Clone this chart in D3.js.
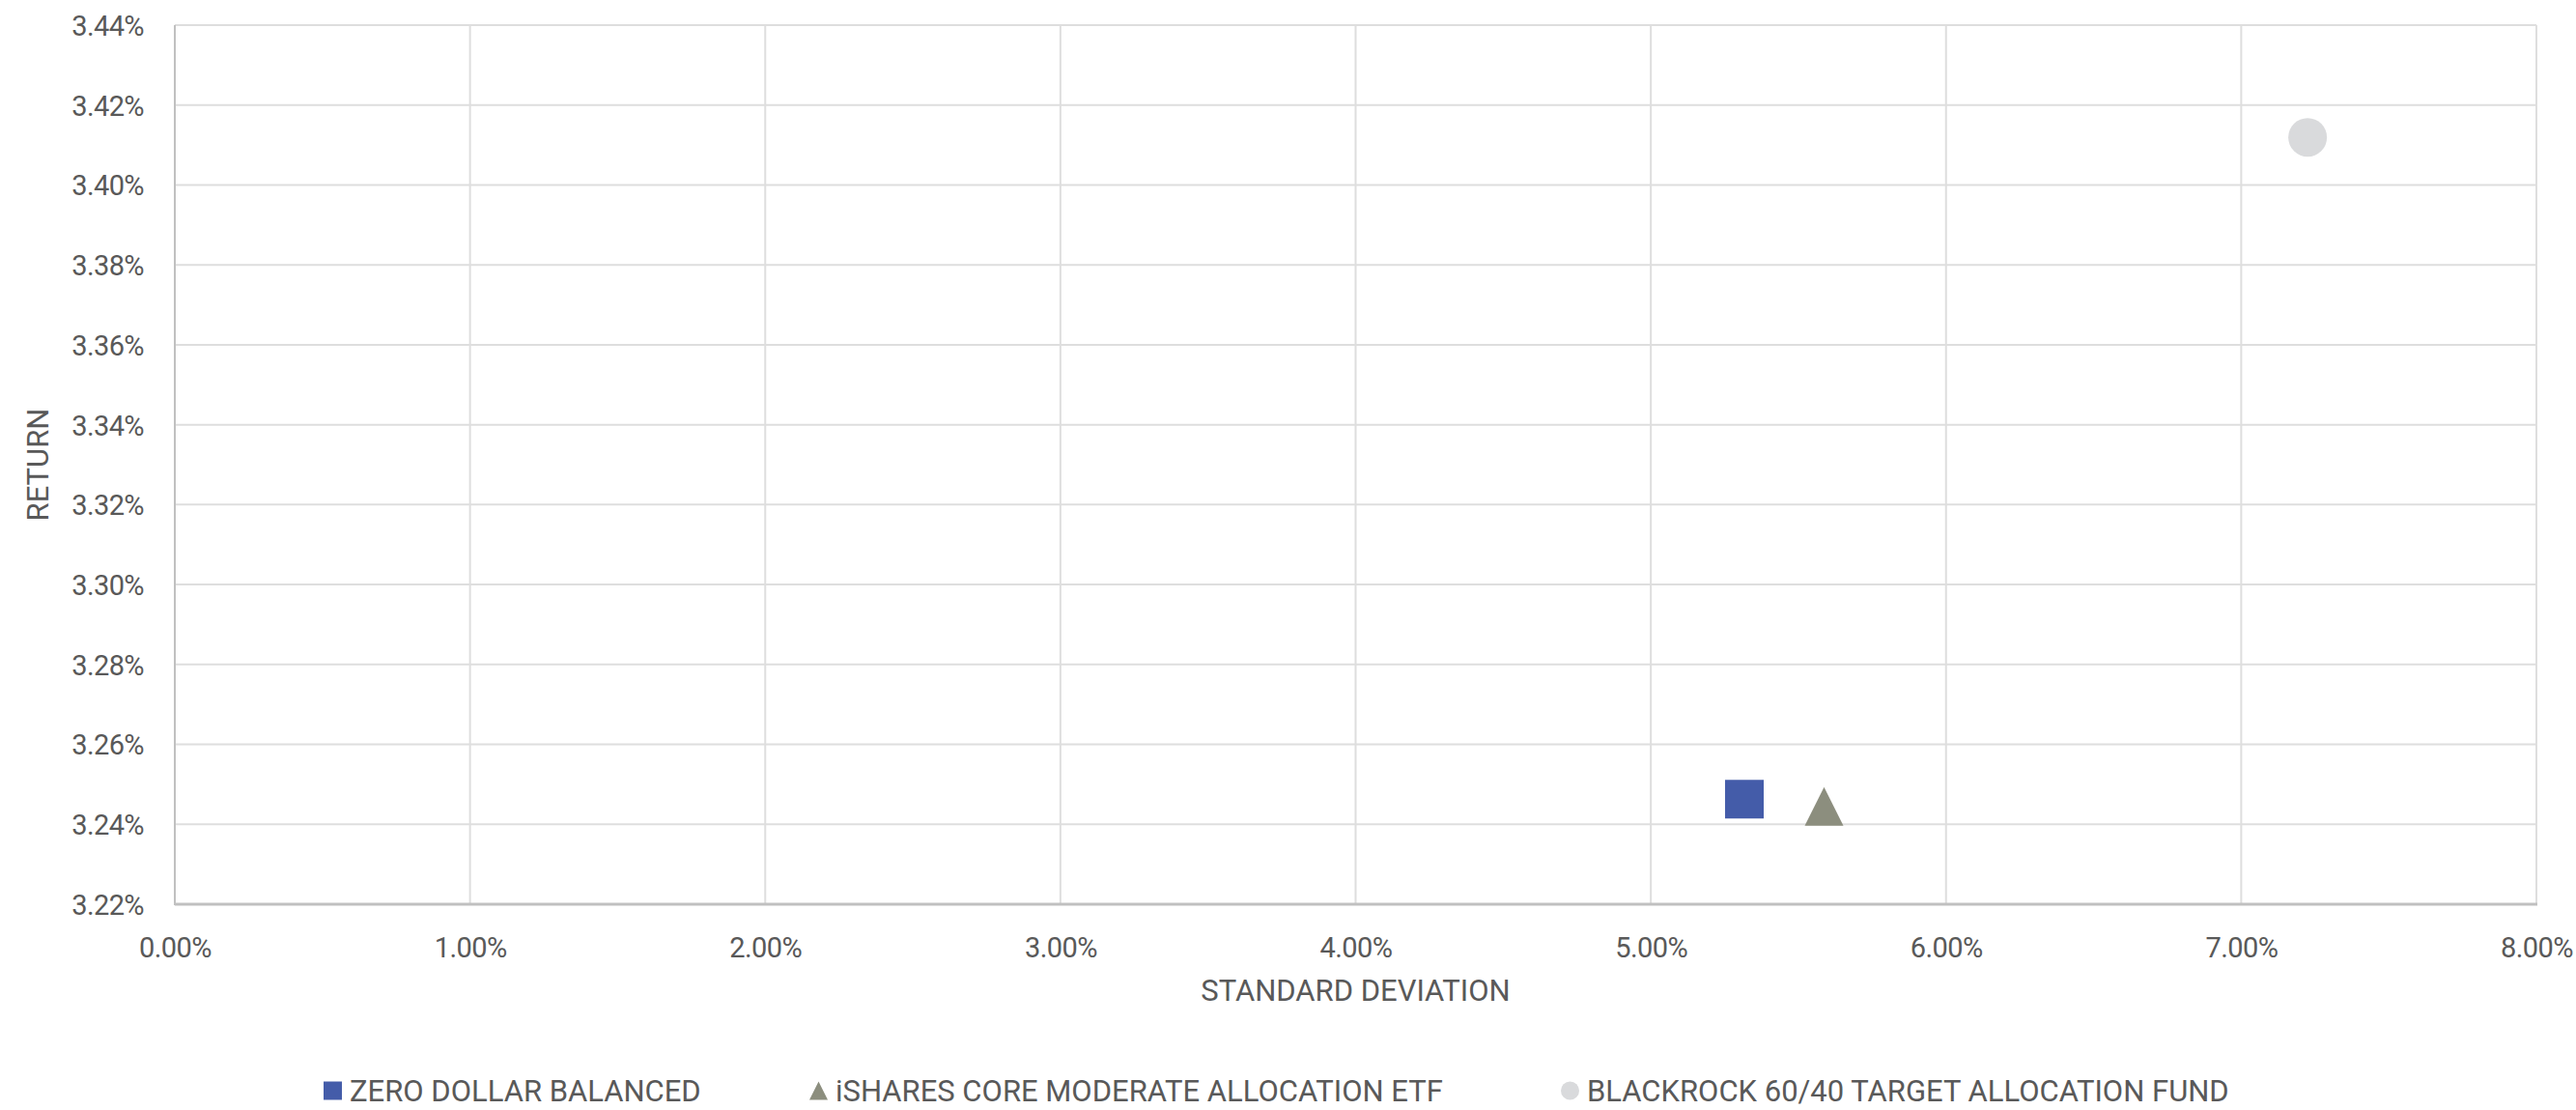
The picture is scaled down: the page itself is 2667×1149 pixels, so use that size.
<!DOCTYPE html>
<html><head><meta charset="utf-8">
<script src="https://cdn.jsdelivr.net/npm/d3@7"></script>
<style>
html,body{margin:0;padding:0;background:#fff;}
svg{display:block;font-family:Roboto, "Noto Sans", sans-serif;}
</style></head>
<body>
<svg id="chart" width="2667" height="1149"></svg>
<script>
// ---- data ----
const seriesNames = ["ZERO DOLLAR BALANCED", "iSHARES CORE MODERATE ALLOCATION ETF", "BLACKROCK 60/40 TARGET ALLOCATION FUND"];
const seriesStdDev = [5.317, 5.587, 7.225];   // % standard deviation
const seriesReturn = [3.2463, 3.2445, 3.4119]; // % return
const seriesSymbols = ["square", "triangle", "circle"];
const seriesColors = ["#445CA9", "#8C8E7E", "#D9DADC"];
const xTicks = [0, 1, 2, 3, 4, 5, 6, 7, 8];
const yTicks = [3.22, 3.24, 3.26, 3.28, 3.30, 3.32, 3.34, 3.36, 3.38, 3.40, 3.42, 3.44];
const xTitle = "STANDARD DEVIATION";
const yTitle = "RETURN";

// ---- layout ----
const L = 181, R = 2626, T = 26, B = 936;
const textColor = "#595959";
const svg = d3.select("#chart");

const x = d3.scaleLinear().domain([0, 8]).range([L, R]);
const y = d3.scaleLinear().domain([3.22, 3.44]).range([B, T]);

// grid
const g = svg.append("g");
g.selectAll("line.vg").data(xTicks).enter().append("line")
  .attr("x1", d => x(d)).attr("x2", d => x(d)).attr("y1", T).attr("y2", B)
  .attr("stroke", "#dedede").attr("stroke-width", 2);
g.selectAll("line.hg").data(yTicks).enter().append("line")
  .attr("x1", L).attr("x2", R).attr("y1", d => y(d)).attr("y2", d => y(d))
  .attr("stroke", "#dedede").attr("stroke-width", 2);

// axes lines
svg.append("line").attr("x1", L).attr("x2", L).attr("y1", T).attr("y2", B + 1)
  .attr("stroke", "#c0c0c0").attr("stroke-width", 2);
svg.append("line").attr("x1", L).attr("x2", R + 1).attr("y1", B).attr("y2", B)
  .attr("stroke", "#c0c0c0").attr("stroke-width", 3);

// axis labels via d3 axes
const yAxis = d3.axisLeft(y).tickValues(yTicks).tickSize(0).tickPadding(32)
  .tickFormat(d => d.toFixed(2) + "%");
const ya = svg.append("g").attr("transform", `translate(${L},0)`).call(yAxis);
ya.select(".domain").remove();
ya.selectAll("text").attr("font-size", 29).attr("letter-spacing", "-0.6px")
  .attr("fill", textColor).attr("font-family", "Roboto").attr("dy", "0.36em");

const xAxis = d3.axisBottom(x).tickValues(xTicks).tickSize(0).tickPadding(0)
  .tickFormat(d => d.toFixed(2) + "%");
const xa = svg.append("g").attr("transform", `translate(0,${B})`).call(xAxis);
xa.select(".domain").remove();
xa.selectAll("text").attr("font-size", 29).attr("letter-spacing", "-0.6px")
  .attr("fill", textColor).attr("font-family", "Roboto").attr("y", 55).attr("dy", 0);

// axis titles
svg.append("text").attr("x", (L + R) / 2).attr("y", 1036).attr("text-anchor", "middle")
  .attr("font-size", 31).attr("fill", textColor).text(xTitle);
svg.append("text").attr("transform", `translate(50,${(T + B) / 2}) rotate(-90)`)
  .attr("text-anchor", "middle").attr("font-size", 31).attr("fill", textColor).text(yTitle);

// symbol paths (bbox-centred, like the original)
function symbolPath(s, size) {
  const h = size / 2;
  if (s === "square") return `M${-h},${-h}H${h}V${h}H${-h}Z`;
  if (s === "triangle") return `M0,${-h}L${h},${h}L${-h},${h}Z`;
  return `M${-h},0A${h},${h} 0 1,0 ${h},0A${h},${h} 0 1,0 ${-h},0Z`;
}

// points
const pts = seriesNames.map((n, i) => ({name: n, sx: seriesStdDev[i], r: seriesReturn[i], s: seriesSymbols[i], c: seriesColors[i]}));
svg.selectAll("path.pt").data(pts).enter().append("path")
  .attr("transform", d => `translate(${x(d.sx)},${y(d.r)})`)
  .attr("d", d => symbolPath(d.s, 40))
  .attr("fill", d => d.c);

// legend
const legendX = [335, 838, 1616];
const legendY = 1129;
const lg = svg.append("g");
pts.forEach((d, i) => {
  const item = lg.append("g").attr("transform", `translate(${legendX[i]},${legendY})`);
  item.append("path").attr("transform", `translate(9.5,0)`)
    .attr("d", symbolPath(d.s, 19)).attr("fill", d.c);
  item.append("text").attr("x", 27).attr("y", 0).attr("dy", "0.36em")
    .attr("font-size", 31).attr("fill", textColor).text(d.name);
});
</script>
</body></html>
